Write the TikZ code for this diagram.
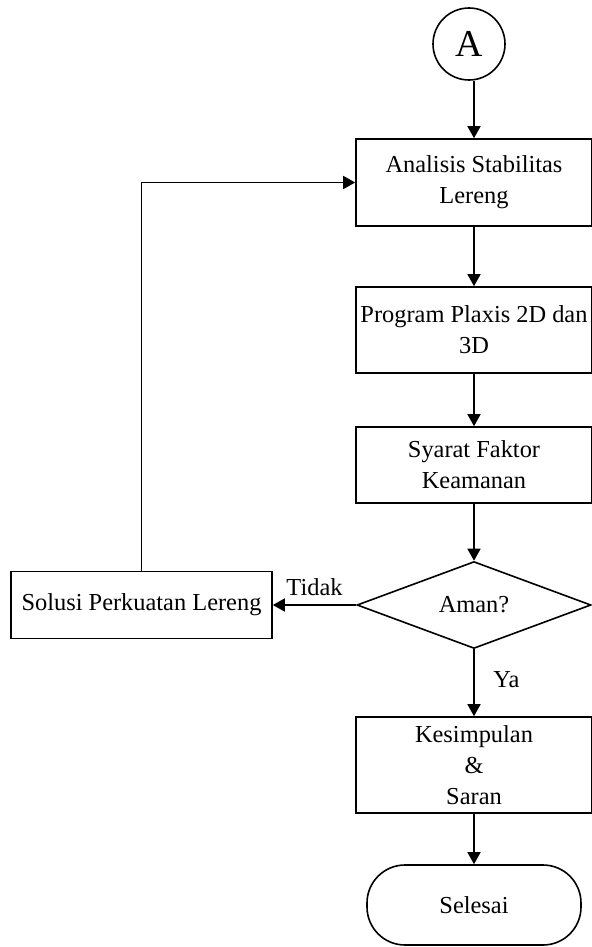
\documentclass[tikz,border=0pt]{standalone}
\usepackage{fontspec}
\setmainfont{Liberation Serif}
\usepackage{tikz}
\usetikzlibrary{arrows.meta}
\usetikzlibrary{shapes.geometric}
\usetikzlibrary{positioning}
\tikzset{>={Triangle[length=6pt,width=6.5pt]}}
\tikzstyle{txt} = [font=\fontsize{12.2}{15.5}\selectfont]
\tikzstyle{proc} = [rectangle, draw=black, line width=0.8pt, txt, align=center, minimum width=118pt, inner sep=0pt]
\tikzstyle{dec} = [diamond, draw=black, line width=0.8pt, txt, minimum width=117pt, minimum height=43pt, inner sep=0pt]
\tikzstyle{term} = [rectangle, rounded corners=19pt, draw=black, line width=0.8pt, txt, minimum width=107pt, minimum height=40pt]
\tikzstyle{conn} = [circle, draw=black, line width=0.8pt, minimum size=36pt, inner sep=0pt, font=\fontsize{19}{22}\selectfont]
\tikzstyle{flow} = [->, draw=black, line width=0.8pt]

\begin{document}
\begin{tikzpicture}[x=0.5pt, y=-0.5pt]
\useasboundingbox (0, 0) rectangle (591, 947);
\node [conn] (A) at (469, 44) {A};
\node [proc, minimum height=43.5pt] (L1) at (474, 182.5) {Analisis Stabilitas\\Lereng};
\node [proc, minimum height=43pt] (L2) at (474, 330) {Program Plaxis 2D dan\\3D};
\node [proc, minimum height=38pt] (L3) at (474, 465) {Syarat Faktor\\Keamanan};
\node [dec] (D) at (474, 605) {Aman?};
\node [proc, minimum width=130.5pt, minimum height=33.5pt] (S) at (141.5, 605) {Solusi Perkuatan Lereng};
\node [proc, minimum height=48pt] (K) at (474, 765) {Kesimpulan\\\&\\Saran};
\node [term] (E) at (474, 905) {Selesai};
\draw [flow] (L1.north |- A.south) -- (L1.north);
\draw [flow] (L1) -- (L2);
\draw [flow] (L2) -- (L3);
\draw [flow] (L3) -- (D);
\draw [flow] (D.west) -- node [txt, above=1pt] {Tidak} (S.east);
\draw [flow] (D.south) -- node [txt, right=6pt, pos=0.45] {Ya} (K.north);
\draw [flow] (K) -- (E);
\draw [flow] (S.north) |- (L1.west);
\end{tikzpicture}
\end{document}
